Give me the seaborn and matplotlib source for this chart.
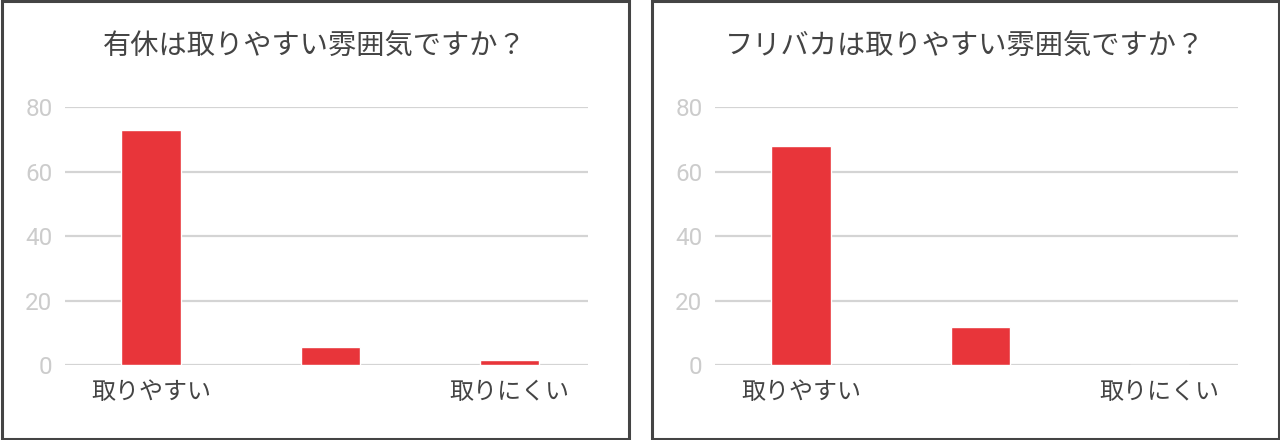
import matplotlib
matplotlib.use("Agg")
import matplotlib.pyplot as plt
import seaborn as sns
import pandas as pd
from matplotlib.patches import Rectangle

# ========== Data ==========
categories = ["取りやすい", "どちらとも", "取りにくい"]
tick_labels = ["取りやすい", "", "取りにくい"]
yukyu_values = [72.8, 5.6, 1.6]
furibaka_values = [67.8, 11.8, 0.0]
titles = ["有休は取りやすい雰囲気ですか？", "フリバカは取りやすい雰囲気ですか？"]
y_ticks = [0, 20, 40, 60, 80]

BAR_COLOR = "#E8353A"
GRID_COLOR = "#D4D4D4"
TICK_COLOR = "#CCCCCC"
TEXT_COLOR = "#444444"

sns.set_theme(style="white")
plt.rcParams['font.family'] = ['Noto Sans CJK JP', 'DejaVu Sans']

W, H = 1280, 440
fig = plt.figure(figsize=(W / 100, H / 100), dpi=100)

# panel frames (pixel coords) and axes left edge
panels = [
    {"x0": 0, "x1": 630, "ax_left": 65, "values": yukyu_values, "title": titles[0]},
    {"x0": 650, "x1": 1280, "ax_left": 715, "values": furibaka_values, "title": titles[1]},
]

for p in panels:
    # border
    fig.add_artist(Rectangle(((p["x0"] + 1.5) / W, 1.5 / H),
                             (p["x1"] - p["x0"] - 3) / W, (H - 3) / H,
                             transform=fig.transFigure, fill=False,
                             lw=2.2, ec=TEXT_COLOR))

    ax = fig.add_axes([p["ax_left"] / W, 75 / H, 523 / W, 258 / H])
    df = pd.DataFrame({"cat": categories, "val": p["values"]})
    sns.barplot(data=df, x="cat", y="val", color=BAR_COLOR, width=0.33,
                saturation=1, ax=ax)
    ax.set_xlim(-0.48, 2.44)
    ax.set_ylim(0, 80)
    ax.set_yticks(y_ticks)
    ax.set_xticks(range(len(categories)))
    ax.set_xticklabels(tick_labels)
    ax.set_xlabel("")
    ax.set_ylabel("")
    ax.yaxis.grid(True, color=GRID_COLOR, lw=1.6)
    ax.set_axisbelow(True)
    for s in ax.spines.values():
        s.set_visible(False)
    ax.tick_params(axis="y", length=0, pad=9, labelsize=17.5, labelcolor=TICK_COLOR)
    for lbl in ax.get_yticklabels():
        lbl.set_family(['Roboto', 'DejaVu Sans'])
    ax.tick_params(axis="x", length=0, pad=10, labelsize=17.3, labelcolor=TEXT_COLOR)

    fig.text((p["x0"] + p["x1"]) / 2 / W, 1 - 47 / H, p["title"],
             ha="center", va="center", fontsize=20.3, color=TEXT_COLOR)

fig.savefig("out.png", dpi=100)
